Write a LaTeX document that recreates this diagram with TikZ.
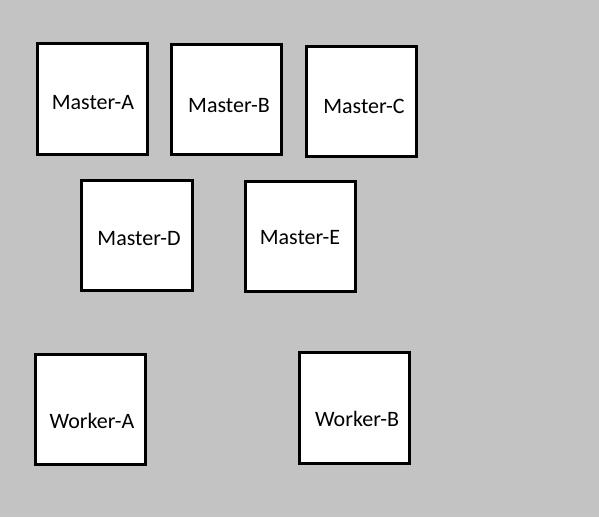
\documentclass[tikz,border=0pt]{standalone}
\usepackage{fontspec}
\setmainfont{Carlito}
\usepackage{tikz}

\tikzset{
  box/.style={draw, fill=white, line width=3pt, minimum size=110.5pt,
    inner sep=0pt},
  every label/.style={font=\fontsize{22}{26}\selectfont},
}
\definecolor{bggray}{HTML}{C3C3C3}

\begin{document}
\begin{tikzpicture}[x=1pt, y=-1pt]

            \fill[bggray] (0,0) rectangle (599,517);

            % masters
            \node[box, label={[xshift=0.5pt, yshift=-4pt]center:Master-A}] (ma) at (92.5, 99) {};
            \node[box, label={[xshift=2.5pt, yshift=-6.5pt]center:Master-B}] (mb) at (226.5, 99.5) {};
            \node[box, label={[xshift=2.5pt, yshift=-4.5pt]center:Master-C}] (mc) at (361.5, 101.5) {};
            \node[box, label={[xshift=2pt, yshift=-3.5pt]center:Master-D}] (md) at (137, 235.5) {};
            \node[box, label={[xshift=-0.5pt, yshift=-1.5pt]center:Master-E}] (me) at (300.5, 236.5) {};

            % workers
            \node[box, label={[xshift=1.5pt, yshift=-11.5pt]center:Worker-A}] (wa) at (90.5, 409.5) {};
            \node[box, label={[xshift=2.5pt, yshift=-11pt]center:Worker-B}] (wb) at (354.5, 408) {};

            \end{tikzpicture}
\end{document}
